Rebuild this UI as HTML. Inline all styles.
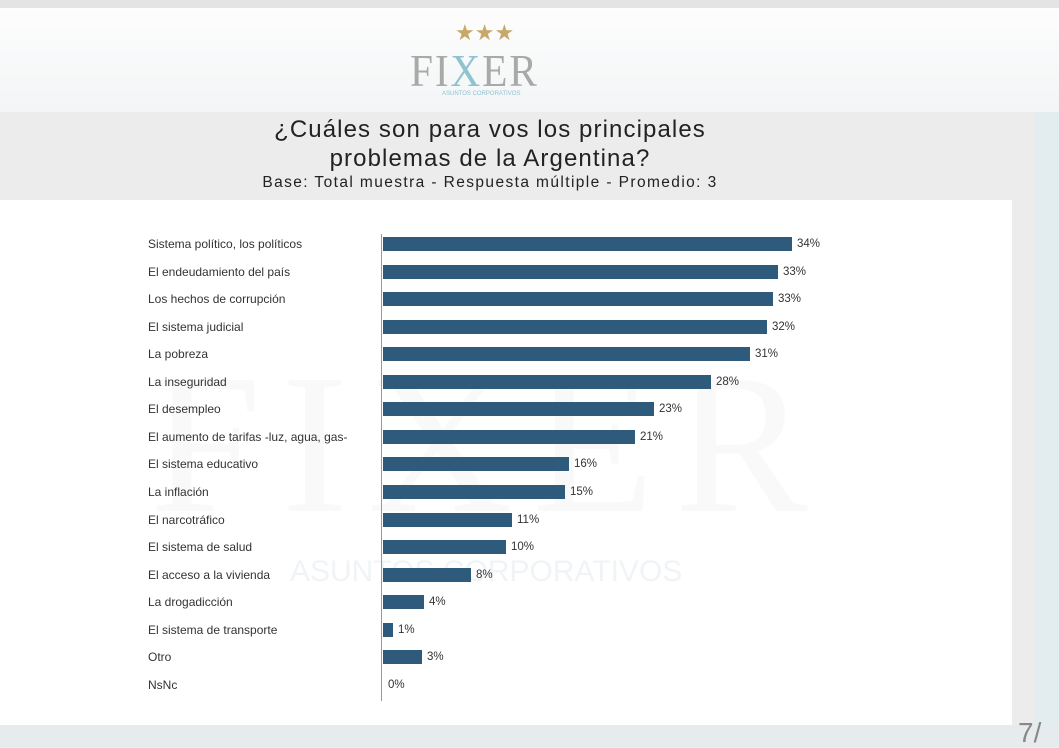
<!DOCTYPE html>
<html><head><meta charset="utf-8"><style>
body{margin:0;width:1059px;height:747px;overflow:hidden;background:#eceeef;font-family:"Liberation Sans",sans-serif;position:relative}
.a{position:absolute}
.lbl{position:absolute;left:148px;font-size:12px;color:#333;line-height:14px}
.bar{position:absolute;left:383px;height:14px;background:#2e5a7b}
.val{position:absolute;font-size:11.5px;color:#333;line-height:14px}
</style></head><body>
<div class="a" style="left:0;top:0;width:1059px;height:8px;background:#e4e4e4"></div>
<div class="a" style="left:0;top:8px;width:1059px;height:104px;background:linear-gradient(#fdfdfd,#f3f5f6)"></div>
<div class="a" style="left:1035px;top:112px;width:24px;height:613px;background:#e3edf0"></div>
<div class="a" style="left:0;top:112px;width:1035px;height:88px;background:#ececec"></div>
<div class="a" style="left:0;top:200px;width:1012px;height:525px;background:#fff"></div>
<div class="a" style="left:1012px;top:200px;width:23px;height:525px;background:#ececec"></div>
<div class="a" style="left:0;top:725px;width:1059px;height:22px;background:#e6ecee"></div>
<div class="a" style="left:1018px;top:718px;font-size:28px;line-height:30px;color:#888">7/</div>
<div class="a" style="left:455px;top:20px;font-size:22px;color:#c8a867">★★★</div>
<div class="a" style="left:410px;top:44px;font-size:46px;color:#a9a9a9;font-family:'Liberation Serif',serif;letter-spacing:2px;transform:scaleX(0.9);transform-origin:left">FI<span style="color:#8fc3cf">X</span>ER</div>
<div class="a" style="left:442px;top:91px;font-size:6px;color:#8fc3cf">ASUNTOS CORPORATIVOS</div>
<div class="a" style="left:150px;top:330px;font-size:200px;color:#f9f9f9;font-family:'Liberation Serif',serif;letter-spacing:20px">FIXER</div>
<div class="a" style="left:290px;top:555px;font-size:30px;color:#f0f4f6">ASUNTOS CORPORATIVOS</div>
<div class="a" style="left:0;top:115px;width:980px;text-align:center;font-size:24px;line-height:29px;letter-spacing:1.1px;color:#222">¿Cuáles son para vos los principales<br>problemas de la Argentina?</div>
<div class="a" style="left:0;top:174px;width:980px;text-align:center;font-size:15.5px;letter-spacing:1.4px;color:#222">Base: Total muestra - Respuesta múltiple - Promedio: 3</div>
<div class="a" style="left:381px;top:234px;width:1px;height:467px;background:#999"></div>
<div id="c"></div>
<script>
var d=[["Sistema político, los políticos",34,792],["El endeudamiento del país",33,778],["Los hechos de corrupción",33,773],["El sistema judicial",32,767],["La pobreza",31,750],["La inseguridad",28,711],["El desempleo",23,654],["El aumento de tarifas -luz, agua, gas-",21,635],["El sistema educativo",16,569],["La inflación",15,565],["El narcotráfico",11,512],["El sistema de salud",10,506],["El acceso a la vivienda",8,471],["La drogadicción",4,424],["El sistema de transporte",1,393],["Otro",3,422],["NsNc",0,383]];
var h="";
d.forEach(function(r,i){var y=237+i*27.55;
h+='<div class="lbl" style="top:'+y+'px">'+r[0]+'</div>';
if(r[1]>0)h+='<div class="bar" style="top:'+y+'px;width:'+(r[2]-383)+'px"></div>';
h+='<div class="val" style="top:'+y+'px;left:'+(r[2]+5)+'px">'+r[1]+'%</div>';});
document.getElementById("c").innerHTML=h;
</script>
</body></html>
